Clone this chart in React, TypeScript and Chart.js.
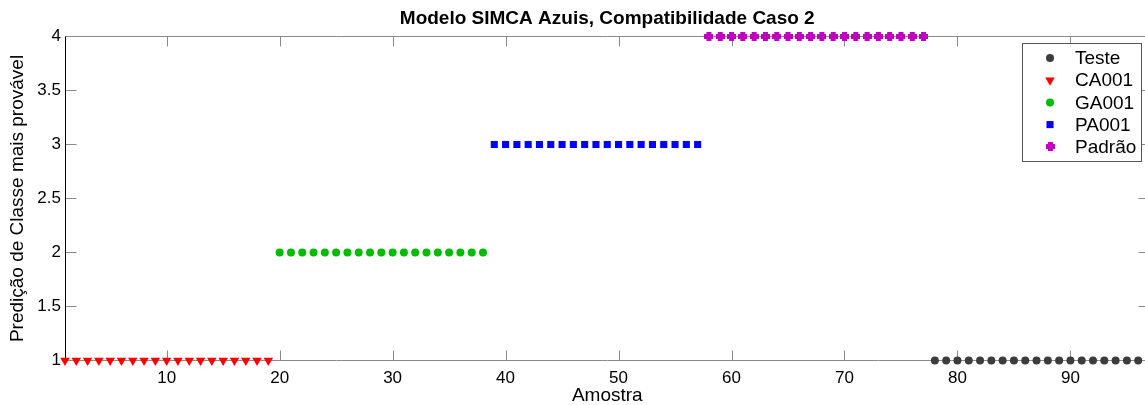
import React, { useEffect, useRef } from "react";
import { Chart, registerables } from "chart.js";

Chart.register(...registerables);

const chartTitle = "Modelo SIMCA Azuis, Compatibilidade Caso 2";
const xAxisTitle = "Amostra";
const yAxisTitle = "Predição de Classe mais provável";

const xTickValues = [10, 20, 30, 40, 50, 60, 70, 80, 90];
const yTickValues = [1, 1.5, 2, 2.5, 3, 3.5, 4];

const testeX = [78, 79, 80, 81, 82, 83, 84, 85, 86, 87, 88, 89, 90, 91, 92, 93, 94, 95, 96];
const testeY = [1, 1, 1, 1, 1, 1, 1, 1, 1, 1, 1, 1, 1, 1, 1, 1, 1, 1, 1];

const ca001X = [1, 2, 3, 4, 5, 6, 7, 8, 9, 10, 11, 12, 13, 14, 15, 16, 17, 18, 19];
const ca001Y = [1, 1, 1, 1, 1, 1, 1, 1, 1, 1, 1, 1, 1, 1, 1, 1, 1, 1, 1];

const ga001X = [20, 21, 22, 23, 24, 25, 26, 27, 28, 29, 30, 31, 32, 33, 34, 35, 36, 37, 38];
const ga001Y = [2, 2, 2, 2, 2, 2, 2, 2, 2, 2, 2, 2, 2, 2, 2, 2, 2, 2, 2];

const pa001X = [39, 40, 41, 42, 43, 44, 45, 46, 47, 48, 49, 50, 51, 52, 53, 54, 55, 56, 57];
const pa001Y = [3, 3, 3, 3, 3, 3, 3, 3, 3, 3, 3, 3, 3, 3, 3, 3, 3, 3, 3];

const padraoX = [58, 59, 60, 61, 62, 63, 64, 65, 66, 67, 68, 69, 70, 71, 72, 73, 74, 75, 76, 77];
const padraoY = [4, 4, 4, 4, 4, 4, 4, 4, 4, 4, 4, 4, 4, 4, 4, 4, 4, 4, 4, 4];

const seriesLabels = ["Teste", "CA001", "GA001", "PA001", "Padrão"];

const FONT = "'Liberation Sans', Arial, Helvetica, sans-serif";

function zip(xs: number[], ys: number[]) {
  return xs.map((x, i) => ({ x, y: ys[i] }));
}

function makePlus(color: string) {
  const c = document.createElement("canvas");
  c.width = 9;
  c.height = 9;
  const g = c.getContext("2d")!;
  g.fillStyle = color;
  g.fillRect(0, 2, 9, 5);
  g.fillRect(2, 0, 5, 9);
  return c;
}

function drawMarker(ctx: CanvasRenderingContext2D, ds: any, x: number, y: number) {
  ctx.save();
  ctx.fillStyle = ds.backgroundColor;
  const style = ds.pointStyle;
  const r = ds.pointRadius;
  if (style instanceof HTMLCanvasElement) {
    ctx.drawImage(style, Math.round(x - style.width / 2), Math.round(y - style.height / 2));
  } else if (style === "circle") {
    ctx.beginPath();
    ctx.arc(x, y, r, 0, Math.PI * 2);
    ctx.fill();
  } else if (style === "rect") {
    const s = Math.SQRT1_2 * r;
    ctx.fillRect(x - s, y - s, 2 * s, 2 * s);
  } else if (style === "triangle") {
    ctx.beginPath();
    const rad = Math.PI;
    ctx.moveTo(x + Math.sin(rad) * r, y - Math.cos(rad) * r);
    ctx.lineTo(x + Math.sin(rad + (2 * Math.PI) / 3) * r, y - Math.cos(rad + (2 * Math.PI) / 3) * r);
    ctx.lineTo(x + Math.sin(rad + (4 * Math.PI) / 3) * r, y - Math.cos(rad + (4 * Math.PI) / 3) * r);
    ctx.closePath();
    ctx.fill();
  }
  ctx.restore();
}

const framePlugin = {
  id: "matlabFrame",
  beforeDatasetsDraw(chart: any) {
    const { ctx, chartArea: a, scales } = chart;
    const xs = scales.x;
    const ys = scales.y;
    const L = Math.floor(a.left) + 0.5;
    const T = Math.floor(a.top) + 0.5;
    const B = Math.floor(a.bottom) + 0.5;
    const R = Math.floor(a.right) + 0.5;
    ctx.save();
    ctx.fillStyle = "#000000";
    ctx.font = `bold 19px ${FONT}`;
    ctx.textAlign = "center";
    ctx.textBaseline = "middle";
    ctx.fillText(chartTitle, (a.left + a.right) / 2, 19);

    ctx.lineWidth = 1;
    ctx.strokeStyle = "#8a8a8a";
    ctx.beginPath();
    xs.ticks.forEach((t: any) => {
      const px = Math.round(xs.getPixelForValue(t.value)) + 0.5;
      ctx.moveTo(px, B);
      ctx.lineTo(px, B - 10);
      ctx.moveTo(px, T);
      ctx.lineTo(px, T + 10);
    });
    ys.ticks.forEach((t: any) => {
      const py = Math.floor(ys.getPixelForValue(t.value)) + 0.5;
      ctx.moveTo(L, py);
      ctx.lineTo(L + 11, py);
      ctx.moveTo(R, py);
      ctx.lineTo(R - 11, py);
    });
    ctx.stroke();
    ctx.beginPath();
    ctx.moveTo(L, T);
    ctx.lineTo(R, T);
    ctx.lineTo(R, B);
    ctx.lineTo(L, B);
    ctx.stroke();
    ctx.strokeStyle = "#000000";
    ctx.beginPath();
    ctx.moveTo(L, T);
    ctx.lineTo(L, B);
    ctx.stroke();
    ctx.restore();
  },
  afterDatasetsDraw(chart: any) {
    const { ctx } = chart;
    const bx = 1022.5;
    const by = 43.5;
    const bw = 119;
    const bh = 118;
    ctx.save();
    ctx.fillStyle = "#ffffff";
    ctx.fillRect(bx, by, bw, bh);
    ctx.strokeStyle = "#555555";
    ctx.lineWidth = 1;
    ctx.strokeRect(bx, by, bw, bh);
    ctx.font = `19px ${FONT}`;
    ctx.textBaseline = "middle";
    ctx.textAlign = "left";
    chart.data.datasets.forEach((ds: any, i: number) => {
      const cy = 58 + i * 22.2;
      drawMarker(ctx, ds, 1050, cy);
      ctx.fillStyle = "#000000";
      ctx.fillText(ds.label, 1075, cy + 1);
    });
    ctx.restore();
  },
};

export default function App() {
  const ref = useRef<HTMLCanvasElement | null>(null);

  useEffect(() => {
    if (!ref.current) return;
    const plus = makePlus("#bf00bf");
    const chart = new Chart(ref.current, {
      type: "scatter",
      data: {
        datasets: [
          {
            label: seriesLabels[0],
            data: zip(testeX, testeY),
            pointStyle: "circle",
            pointRadius: 4,
            backgroundColor: "#3c3c3c",
            borderWidth: 0,
            clip: false,
          },
          {
            label: seriesLabels[1],
            data: zip(ca001X, ca001Y),
            pointStyle: "triangle",
            rotation: 180,
            pointRadius: 5.5,
            backgroundColor: "#ff0000",
            borderWidth: 0,
            clip: false,
          },
          {
            label: seriesLabels[2],
            data: zip(ga001X, ga001Y),
            pointStyle: "circle",
            pointRadius: 4,
            backgroundColor: "#00bb00",
            borderWidth: 0,
            clip: false,
          },
          {
            label: seriesLabels[3],
            data: zip(pa001X, pa001Y),
            pointStyle: "rect",
            pointRadius: 5,
            backgroundColor: "#0000ff",
            borderWidth: 0,
            clip: false,
          },
          {
            label: seriesLabels[4],
            data: zip(padraoX, padraoY),
            pointStyle: plus as any,
            pointRadius: 4.5,
            backgroundColor: "#bf00bf",
            borderWidth: 0,
            clip: false,
          },
        ] as any,
      },
      options: {
        responsive: false,
        animation: false,
        layout: { padding: { top: 36.5, left: 0, right: 0, bottom: 0 } },
        plugins: {
          legend: { display: false },
          tooltip: { enabled: false },
          title: { display: false },
        },
        scales: {
          x: {
            type: "linear",
            min: 1,
            max: 97,
            afterBuildTicks: (s: any) => {
              s.ticks = xTickValues.map((v) => ({ value: v }));
            },
            afterFit: (s: any) => {
              s.height = 44.5;
              s.paddingLeft = 0;
              s.paddingRight = 0;
            },
            grid: { display: false, drawTicks: false },
            border: { display: false },
            ticks: {
              color: "#000000",
              font: { family: FONT, size: 17 },
              padding: 8,
              maxRotation: 0,
              autoSkip: false,
            },
            title: {
              display: true,
              text: xAxisTitle,
              color: "#000000",
              font: { family: FONT, size: 19, lineHeight: 1 },
              padding: { top: 0, bottom: 0 },
            },
          },
          y: {
            type: "linear",
            min: 1,
            max: 4,
            afterBuildTicks: (s: any) => {
              s.ticks = yTickValues.map((v) => ({ value: v }));
            },
            afterFit: (s: any) => {
              s.width = 65;
              s.paddingTop = 0;
              s.paddingBottom = 0;
            },
            grid: { display: false, drawTicks: false },
            border: { display: false },
            ticks: {
              color: "#000000",
              font: { family: FONT, size: 17 },
              padding: 4,
              autoSkip: false,
              callback: (v: any) => String(v),
            },
            title: {
              display: true,
              text: yAxisTitle,
              color: "#000000",
              font: { family: FONT, size: 19, lineHeight: 1 },
              padding: { top: 8, bottom: 0 },
            },
          },
        },
      } as any,
      plugins: [framePlugin],
    });
    return () => chart.destroy();
  }, []);

  return (
    <div
      style={{
        position: "absolute",
        left: 0,
        top: 0,
        width: 1145,
        height: 405,
        overflow: "hidden",
        background: "#ffffff",
      }}
    >
      <canvas
        ref={ref}
        width={1155}
        height={405}
        style={{ display: "block", width: 1155, height: 405, maxWidth: "none" }}
      />
    </div>
  );
}
